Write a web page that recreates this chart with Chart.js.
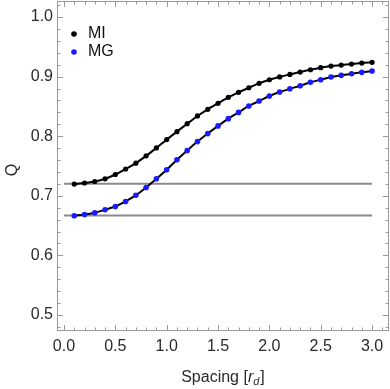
<!DOCTYPE html>
<html>
<head>
<meta charset="utf-8">
<script src="https://cdn.jsdelivr.net/npm/chart.js@4"></script>
<style>
  html, body { margin: 0; padding: 0; background: #fff; overflow: hidden; }
  canvas { display: block; }
</style>
</head>
<body>
<canvas id="chart" width="390" height="389"></canvas>
<script>
// spacing values (in units of r_d)
const spacing = [0.1, 0.2, 0.3, 0.4, 0.5, 0.6, 0.7, 0.8, 0.9, 1.0,
  1.1, 1.2, 1.3, 1.4, 1.5, 1.6, 1.7, 1.8, 1.9, 2.0,
  2.1, 2.2, 2.3, 2.4, 2.5, 2.6, 2.7, 2.8, 2.9, 3.0];
const qMI = [0.7196, 0.7215, 0.724, 0.7285, 0.7357, 0.745, 0.7548, 0.767, 0.7804, 0.7943,
  0.8077, 0.821, 0.834, 0.8452, 0.8553, 0.8653, 0.8737, 0.8814, 0.8888, 0.8948,
  0.8995, 0.9038, 0.9077, 0.9116, 0.915, 0.9178, 0.9194, 0.9211, 0.9228, 0.924];
const qMG = [0.6665, 0.6687, 0.6715, 0.6765, 0.682, 0.6905, 0.701, 0.714, 0.7285, 0.7436,
  0.7605, 0.776, 0.791, 0.8044, 0.8173, 0.8295, 0.84, 0.8508, 0.859, 0.8675,
  0.8742, 0.8797, 0.8848, 0.8905, 0.8948, 0.8993, 0.9022, 0.9049, 0.9072, 0.9094];
// horizontal reference levels, drawn from x = 0 to x = 3
const refLevels = [0.72, 0.667];
const refRange = [0, 3.0];

const xTicks = [0.0, 0.5, 1.0, 1.5, 2.0, 2.5, 3.0];
const yTicks = [0.5, 0.6, 0.7, 0.8, 0.9, 1.0];
const xMinor = [];
for (let i = 0; i <= 31; i++) xMinor.push(i / 10);
const yMinor = [];
for (let i = 24; i <= 51; i++) yMinor.push(i / 50);

const FONT = "'Liberation Sans', Arial, sans-serif";
const FRAME = "#9a9a9a";

function pts(xs, ys) {
  return xs.map((x, i) => ({ x: x, y: ys[i] }));
}

const refSets = refLevels.map((v) => ({
  label: "ref " + v,
  data: refRange.map((x) => ({ x: x, y: v })),
  showLine: true,
  borderColor: "#8a8a8a",
  borderWidth: 2,
  pointRadius: 0,
  order: 3,
}));

// frame, inward ticks, tick labels, titles and legend
const framePlugin = {
  id: "frame",
  afterDraw(chart) {
    const { ctx, chartArea: a, scales } = chart;
    const sx = scales.x, sy = scales.y;
    ctx.save();
    ctx.strokeStyle = FRAME;
    ctx.lineWidth = 1;
    ctx.strokeRect(a.left + 0.5, a.top + 0.5, a.right - a.left - 1, a.bottom - a.top - 1);
    ctx.beginPath();
    xMinor.forEach((v) => {
      const px = Math.round(sx.getPixelForValue(v)) + 0.5;
      if (px > a.right - 1) return;
      const len = Math.abs(v * 2 - Math.round(v * 2)) < 1e-6 ? 6 : 3.5;
      ctx.moveTo(px, a.bottom); ctx.lineTo(px, a.bottom - len);
      ctx.moveTo(px, a.top); ctx.lineTo(px, a.top + len);
    });
    yMinor.forEach((v) => {
      const py = Math.round(sy.getPixelForValue(v)) + 0.5;
      const len = Math.abs(v * 10 - Math.round(v * 10)) < 1e-6 ? 6 : 3.5;
      ctx.moveTo(a.left, py); ctx.lineTo(a.left + len, py);
      ctx.moveTo(a.right, py); ctx.lineTo(a.right - len, py);
    });
    ctx.stroke();

    // tick labels
    ctx.fillStyle = "#2a2a2a";
    ctx.font = "16px " + FONT;
    ctx.textAlign = "center";
    ctx.textBaseline = "middle";
    xTicks.forEach((v) => {
      ctx.fillText(v.toFixed(1), sx.getPixelForValue(v), a.bottom + 16);
    });
    ctx.textAlign = "right";
    yTicks.forEach((v) => {
      ctx.fillText(v.toFixed(1), a.left - 4, sy.getPixelForValue(v));
    });

    // axis titles
    ctx.save();
    ctx.translate(13, 170);
    ctx.rotate(-Math.PI / 2);
    ctx.textAlign = "center";
    ctx.fillText("Q", 0, 0);
    ctx.restore();

    const p1 = "Spacing [", p2 = "r", p3 = "d", p4 = "]";
    ctx.font = "16px " + FONT;
    const w1 = ctx.measureText(p1).width, w4 = ctx.measureText(p4).width;
    ctx.font = "italic 16px " + FONT;
    const w2 = ctx.measureText(p2).width;
    ctx.font = "italic 11px " + FONT;
    const w3 = ctx.measureText(p3).width;
    let x0 = (a.left + a.right) / 2 - (w1 + w2 + w3 + 1 + w4) / 2;
    const base = 382;
    ctx.textAlign = "left";
    ctx.textBaseline = "alphabetic";
    ctx.font = "16px " + FONT;
    ctx.fillText(p1, x0, base); x0 += w1;
    ctx.font = "italic 16px " + FONT;
    ctx.fillText(p2, x0, base); x0 += w2;
    ctx.font = "italic 11px " + FONT;
    ctx.fillText(p3, x0, base + 3); x0 += w3 + 1;
    ctx.font = "16px " + FONT;
    ctx.fillText(p4, x0, base);

    // legend
    const leg = [["MI", "#000000"], ["MG", "#1a1aff"]];
    ctx.font = "16px " + FONT;
    ctx.textBaseline = "middle";
    leg.forEach((l, i) => {
      const y = 34 + i * 18;
      ctx.fillStyle = l[1];
      ctx.beginPath();
      ctx.arc(74, y, 2.8, 0, Math.PI * 2);
      ctx.fill();
      ctx.fillStyle = "#111";
      ctx.fillText(l[0], 88, y);
    });
    ctx.restore();
  },
};

new Chart(document.getElementById("chart"), {
  type: "scatter",
  data: {
    datasets: [
      {
        label: "MI",
        data: pts(spacing, qMI),
        showLine: true,
        borderColor: "#000",
        borderWidth: 2,
        tension: 0.3,
        pointRadius: 2.6,
        pointBackgroundColor: "#000",
        pointBorderWidth: 0,
        order: 1,
      },
      {
        label: "MG",
        data: pts(spacing, qMG),
        showLine: true,
        borderColor: "#000",
        borderWidth: 2,
        tension: 0.3,
        pointRadius: 2.8,
        pointBackgroundColor: "#1a1aff",
        pointBorderWidth: 0,
        order: 2,
      },
      ...refSets,
    ],
  },
  options: {
    responsive: false,
    animation: false,
    layout: { autoPadding: false, padding: { top: 1, right: 1, left: 0, bottom: 0 } },
    plugins: {
      legend: { display: false },
      tooltip: { enabled: false },
    },
    scales: {
      x: {
        type: "linear",
        min: -0.068,
        max: 3.165,
        afterFit: (s) => { s.height = 58; },
        grid: { display: false },
        border: { display: false },
        ticks: { display: false },
      },
      y: {
        type: "linear",
        min: 0.473,
        max: 1.027,
        afterFit: (s) => { s.width = 57; },
        grid: { display: false },
        border: { display: false },
        ticks: { display: false },
      },
    },
  },
  plugins: [framePlugin],
});
</script>
</body>
</html>
